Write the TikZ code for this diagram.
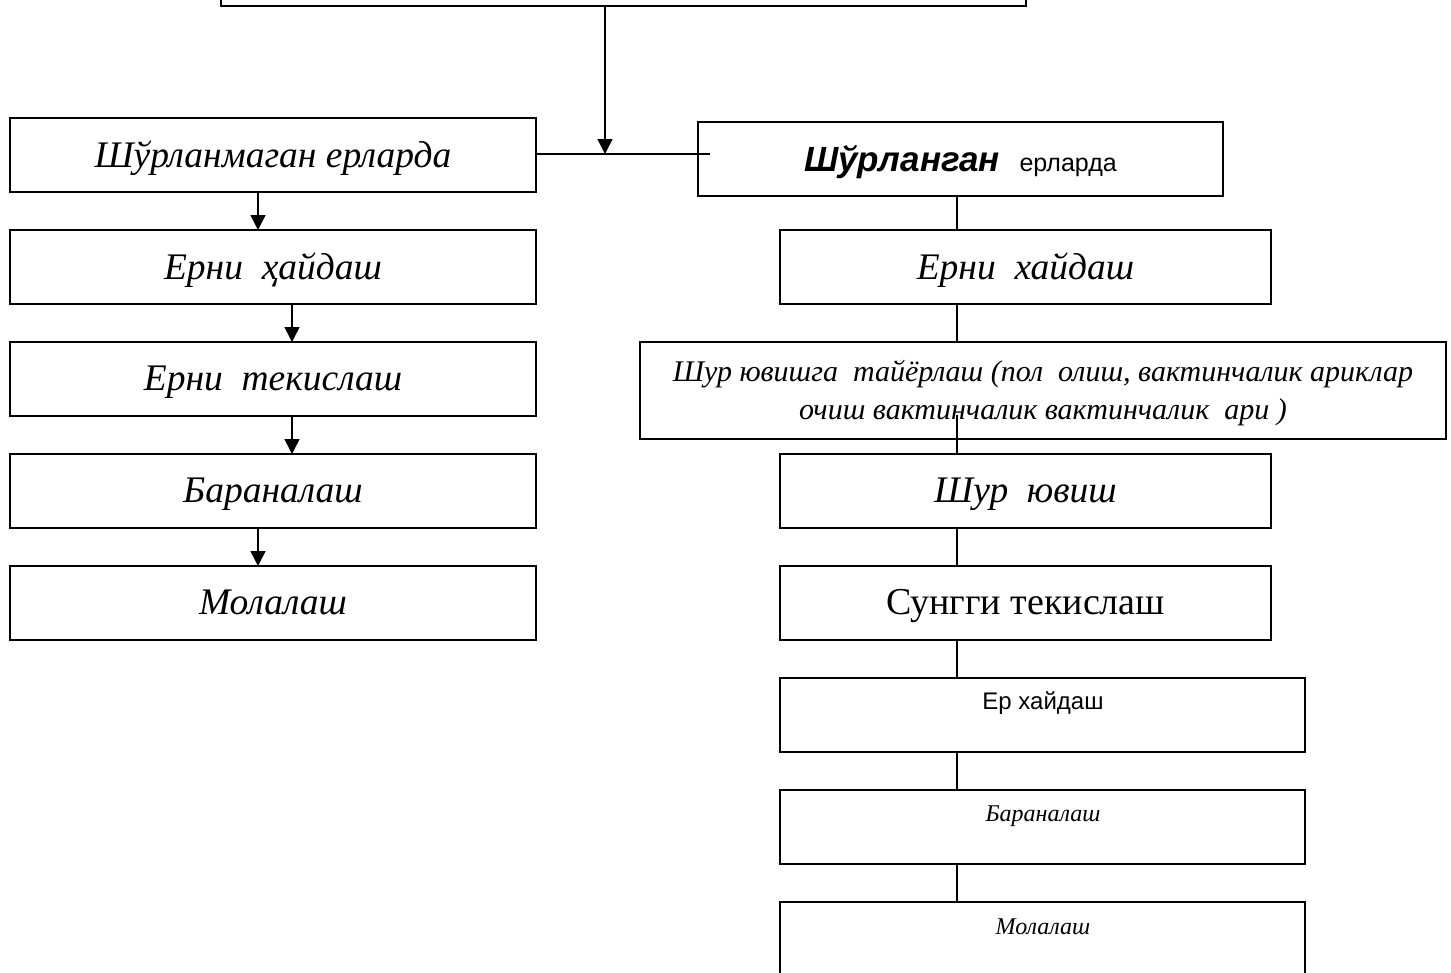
\documentclass[tikz,border=0pt]{standalone}
\usepackage{fontspec}
\setmainfont{Liberation Serif}
\newfontfamily\arialf{Liberation Sans}
\usetikzlibrary{arrows.meta}
\begin{document}
\begin{tikzpicture}[x=1pt,y=-1pt,
  box/.style={draw=black,line width=1.8pt,fill=white,inner sep=0pt,outer sep=0pt,anchor=north west,text depth=2pt},
  conn/.style={line width=1.4pt},
  arr/.style={line width=1.4pt,-{Triangle[length=15pt,width=15pt]}},
  big/.style={font=\fontsize{37.5}{44}\selectfont\itshape},
  small/.style={font=\fontsize{24}{28}\selectfont\itshape}]
\useasboundingbox (0,0) rectangle (1451,972);
\clip (0,0) rectangle (1451,972);
\fill[white] (0,0) rectangle (1451,972);
% top box
\node[box,minimum width=805pt,minimum height=40pt] (top) at (221,-34) {};
% left column
\node[box,minimum width=526pt,minimum height=74pt,big] (L1) at (10,118) {Шўрланмаган ерларда};
\node[box,minimum width=526pt,minimum height=74pt,big] (L2) at (10,230) {Ерни\ \ ҳайдаш};
\node[box,minimum width=526pt,minimum height=74pt,big] (L3) at (10,342) {Ерни\ \ текислаш};
\node[box,minimum width=526pt,minimum height=74pt,big] (L4) at (10,454) {Бараналаш};
\node[box,minimum width=526pt,minimum height=74pt,big] (L5) at (10,566) {Молалаш};
% right column
\node[box,minimum width=525pt,minimum height=74pt] (R1) at (698,122) {\arialf\fontsize{35}{40}\selectfont\bfseries\itshape Шўрланган\ \ \fontsize{25}{30}\selectfont\mdseries\upshape ерларда};
\node[box,minimum width=491pt,minimum height=74pt,big] (R2) at (780,230) {Ерни\ \ хайдаш};
\node[box,minimum width=806pt,minimum height=97pt,align=center,font=\fontsize{30}{38}\selectfont\itshape] (R3) at (640,342) {Шур ювишга\ \ тайёрлаш (пол\ \ олиш, вактинчалик ариклар\\очиш вактинчалик вактинчалик\ \ ари )};
\node[box,minimum width=491pt,minimum height=74pt,big] (R4) at (780,454) {Шур\ \ ювиш};
\node[box,minimum width=491pt,minimum height=74pt,font=\fontsize{38}{44}\selectfont] (R5) at (780,566) {Сунгги текислаш};
\node[box,minimum width=525pt,minimum height=74pt] (R6) at (780,678) {};
\node[box,minimum width=525pt,minimum height=74pt] (R7) at (780,790) {};
\node[box,minimum width=525pt,minimum height=74pt] (R8) at (780,902) {};
\node[font=\arialf\fontsize{24}{28}\selectfont] (t6) at (1043,703) {Ер хайдаш};
\node[small] (t7) at (1043,816) {Бараналаш};
\node[small] (t8) at (1043,927) {Молалаш};
% connectors
\coordinate (j) at (605,154);
\coordinate (je) at (710,154);
\coordinate (xa) at (258,0);
\coordinate (xb) at (292,0);
\coordinate (xr) at (957,0);
\coordinate (r3in) at (957,415);
\draw[arr] (top.south -| j) -- (j);
\draw[conn] (L1.east |- j) -- (je);
\draw[arr] (L1.south -| xa) -- (L2.north -| xa);
\draw[arr] (L2.south -| xb) -- (L3.north -| xb);
\draw[arr] (L3.south -| xb) -- (L4.north -| xb);
\draw[arr] (L4.south -| xa) -- (L5.north -| xa);
\draw[conn] (R1.south -| xr) -- (R2.north -| xr);
\draw[conn] (R2.south -| xr) -- (R3.north -| xr);
\draw[conn] (r3in) -- (R4.north -| xr);
\draw[conn] (R4.south -| xr) -- (R5.north -| xr);
\draw[conn] (R5.south -| xr) -- (R6.north -| xr);
\draw[conn] (R6.south -| xr) -- (R7.north -| xr);
\draw[conn] (R7.south -| xr) -- (R8.north -| xr);
\end{tikzpicture}
\end{document}
